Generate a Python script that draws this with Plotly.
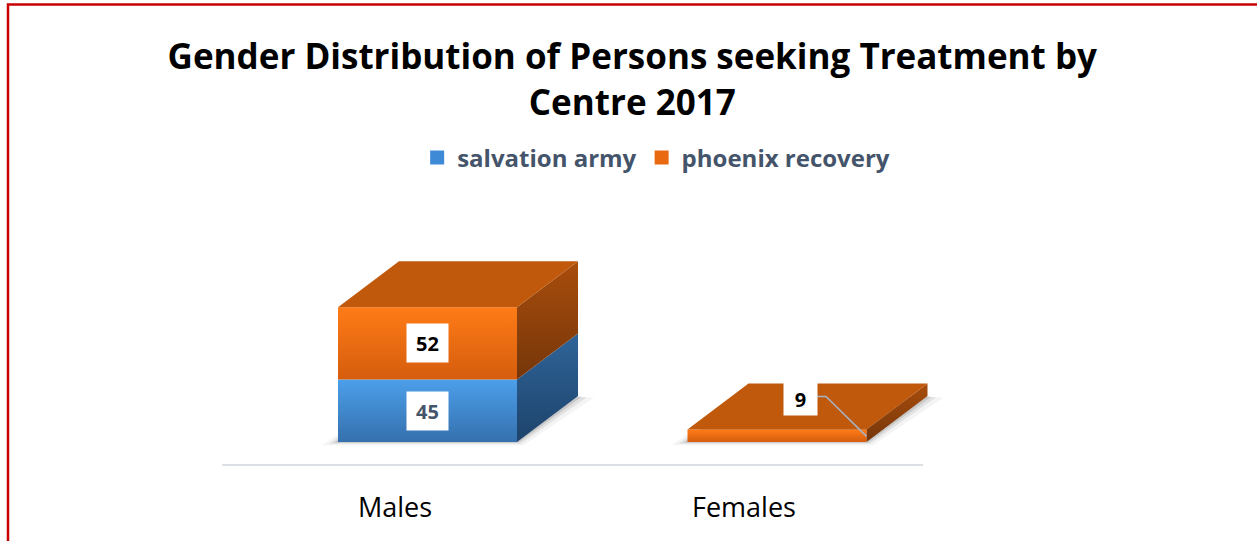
import plotly.graph_objects as go

# ---------------- data ----------------
categories = ["Males", "Females"]
series_names = ["salvation army", "phoenix recovery"]
salvation_army = [45, 0]
phoenix_recovery = [52, 9]
series_values = [salvation_army, phoenix_recovery]
title_text = "Gender Distribution of Persons seeking Treatment by<br>Centre 2017"

# ---------------- geometry / style ----------------
W, H = 1257, 541
CAT0_PX = 427.5      # pixel centre of first category (front face)
CAT_PX = 349.5       # pixels per category step
BASE_PX = 442        # pixel row of value 0
VAL_PX = 1.39        # pixels per value unit


def dx(px):
    return px / CAT_PX


def dv(px):
    return px / VAL_PX


x_range = [-CAT0_PX / CAT_PX, (W - CAT0_PX) / CAT_PX]
y_range = [(BASE_PX - H) / VAL_PX, BASE_PX / VAL_PX]

HALF = dx(89.5)
DEPX = dx(61)
DEPY = dv(46)

FONT = "Open Sans"
series_style = [
    dict(front=("#4C9FEA", "#3570AE"), side=("#2F6499", "#1D436B"), top="#3B7CC0",
         legend="#3F8AD6", label_color="#44546A"),
    dict(front=("#FF7B16", "#D55D0E"), side=("#A94D0C", "#75360A"), top="#C0590C",
         legend="#E8690F", label_color="#000000"),
]


def poly(xs, ys, c_top, c_bot, lo, hi, opacity=1.0):
    xs = list(xs) + [xs[0]]
    ys = list(ys) + [ys[0]]
    return go.Scatter(
        x=xs, y=ys, mode="lines", fill="toself", line=dict(width=0),
        fillgradient=dict(type="vertical", colorscale=[[0, c_bot], [1, c_top]],
                          start=lo, stop=hi),
        opacity=opacity, hoverinfo="skip", showlegend=False,
    )


def flat(xs, ys, color, opacity=1.0):
    xs = list(xs) + [xs[0]]
    ys = list(ys) + [ys[0]]
    return go.Scatter(x=xs, y=ys, mode="lines", fill="toself", line=dict(width=0),
                      fillcolor=color, opacity=opacity, hoverinfo="skip", showlegend=False)


fig = go.Figure()

# soft shadows under each bar
for i, cat in enumerate(categories):
    total = sum(s[i] for s in series_values)
    if total <= 0:
        continue
    xl, xr = i - HALF, i + HALF
    for grow, op in [(16, 0.08), (9, 0.14), (4, 0.22)]:
        fig.add_trace(flat(
            [xl - dx(grow), xr + dx(grow * 0.4), xr + DEPX + dx(grow), xl + DEPX - dx(grow * 0.4)],
            [dv(-grow * 0.2), dv(-grow * 0.2), DEPY - dv(grow * 0.1), DEPY - dv(grow * 0.1)],
            "#6F6F6F", op))

# 3D stacked bars
annotations = []
leaders = []
for i, cat in enumerate(categories):
    xl, xr = i - HALF, i + HALF
    base = 0
    top_style = None
    for k, vals in enumerate(series_values):
        v = vals[i]
        if v <= 0:
            continue
        st = series_style[k]
        lo, hi = base, base + v
        # right side face
        fig.add_trace(poly([xr, xr + DEPX, xr + DEPX, xr],
                           [lo, lo + DEPY, hi + DEPY, hi],
                           st["side"][0], st["side"][1], lo, hi + DEPY))
        # front face
        fig.add_trace(poly([xl, xr, xr, xl], [lo, lo, hi, hi],
                           st["front"][0], st["front"][1], lo, hi))
        base = hi
        top_style = st
        # value label
        if v >= 20:
            annotations.append(dict(
                x=i, y=(lo + hi) / 2, xref="x", yref="y", text=f"<b>{v}</b>",
                showarrow=False, bgcolor="white", borderpad=6, width=29, height=26,
                font=dict(family=FONT, size=20, color=st["label_color"]),
            ))
        else:
            lx, ly = i + dx(23), hi + dv(30)
            annotations.append(dict(
                x=lx, y=ly, xref="x", yref="y", text=f"<b>{v}</b>",
                showarrow=False, bgcolor="white", borderpad=6, width=21, height=20,
                font=dict(family=FONT, size=20, color=st["label_color"]),
            ))
            leaders.append(([lx + dx(16), lx + dx(26), xr],
                            [ly + dv(3), ly + dv(3), lo + v * 0.45]))
    if top_style is not None:
        fig.add_trace(flat([xl, xr, xr + DEPX, xl + DEPX],
                           [base, base, base + DEPY, base + DEPY], top_style["top"]))

# leader lines for small-value labels (drawn above the bars)
for lxs, lys in leaders:
    fig.add_trace(go.Scatter(x=lxs, y=lys, mode="lines",
                             line=dict(color="#A6B3C4", width=1.5),
                             hoverinfo="skip", showlegend=False))

# legend entries
for k, name in enumerate(series_names):
    fig.add_trace(go.Scatter(
        x=[None], y=[None], mode="markers", name=name,
        marker=dict(symbol="square", size=14, color=series_style[k]["legend"]),
    ))

# category labels
for i, cat in enumerate(categories):
    annotations.append(dict(
        x=i - dx(33), y=dv(BASE_PX - 506), xref="x", yref="y", text=cat,
        showarrow=False, font=dict(family=FONT, size=27, color="#000000"),
    ))

shapes = [
    # floor line
    dict(type="line", xref="x", yref="y",
         x0=dx(222 - CAT0_PX), x1=dx(923 - CAT0_PX),
         y0=dv(BASE_PX - 465), y1=dv(BASE_PX - 465),
         line=dict(color="#DCE0E6", width=2)),
    # red frame
    dict(type="rect", xref="paper", yref="paper",
         x0=8 / W, x1=1.02, y0=-0.02, y1=1 - 4.5 / H,
         line=dict(color="#C80000", width=2.5), fillcolor="rgba(0,0,0,0)"),
]

fig.update_layout(
    width=W, height=H,
    margin=dict(l=0, r=0, t=0, b=0),
    paper_bgcolor="white", plot_bgcolor="white",
    xaxis=dict(range=x_range, visible=False, fixedrange=True),
    yaxis=dict(range=y_range, visible=False, fixedrange=True),
    title=dict(text=title_text, x=0.503, xanchor="center", xref="container",
               y=1 - 69 / H, yanchor="middle", yref="container",
               font=dict(family=FONT, size=35, color="#000000", weight="bold")),
    legend=dict(orientation="h", x=0.522, xanchor="center", y=1 - 158 / H, yanchor="middle",
                font=dict(family=FONT, size=24, color="#44546A", weight="bold"),
                bgcolor="rgba(0,0,0,0)", itemclick=False, itemdoubleclick=False),
    annotations=annotations,
    shapes=shapes,
    showlegend=True,
)

fig.write_html("out.html", config={"displayModeBar": False},
               post_script="document.body.style.margin='0';document.body.style.overflow='hidden';")
